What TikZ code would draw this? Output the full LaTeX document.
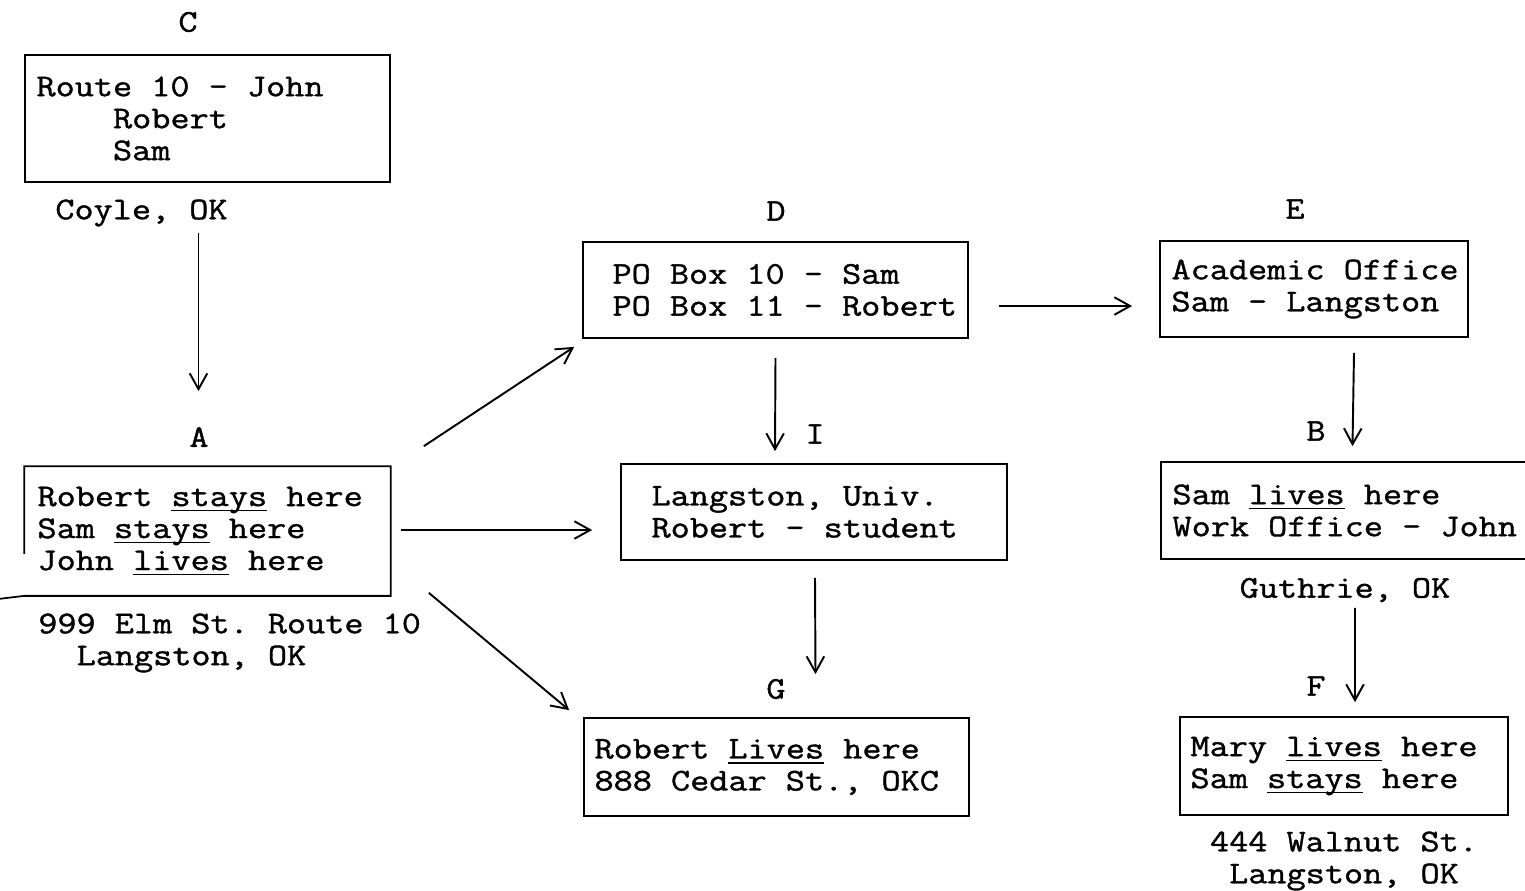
\documentclass[tikz,border=0pt]{standalone}
\usepackage{fontspec}
\setmonofont{Latin Modern Mono}[FakeStretch=1.175, FakeBold=1.2]
\usetikzlibrary{positioning}
\usetikzlibrary{arrows.meta}
\newcommand{\undr}[1]{\setbox0\hbox{#1}\rlap{\rule[-3pt]{\wd0}{0.9pt}}#1}

\begin{document}
\begin{tikzpicture}[x=0.02cm, y=-0.02cm, font=\ttfamily\fontsize{18}{18.2}\selectfont]

\tikzset{box/.style={draw, line width=1pt, inner sep=0pt},
         txt/.style={align=left, inner sep=0pt, anchor=west},
         tag/.style={inner sep=0pt},
         arr/.style={line width=1.1pt, -{Straight Barb[length=9pt, width=10pt]}}}

\useasboundingbox (0,0) rectangle (1525,890);
\clip (0,0) rectangle (1525,890);

\node[box, minimum width=7.3cm, minimum height=2.54cm] (C) at (207.5,118.5) {};
\node[txt, right=0.24cm of C.west] (C-text) {Route 10 - John\\\phantom{xxxx}Robert\\\phantom{xxxx}Sam};
\node[tag] (C-tag) at (188,22) {C};
\node[tag] (C-city) at (141.5,213) {Coyle, OK};

\node[box, draw=none, minimum width=7.3cm, minimum height=2.56cm] (A) at (207.5,531) {};
\draw[line width=1pt] ([shift={(0,-42)}]A.south west) |- (A.north east) |- (A.south west) -- ++(-25,3);
\node[txt, right=0.26cm of A.west] (A-text) {Robert \undr{stays} here\\Sam \undr{stays} here\\John \undr{lives} here};
\node[tag] (A-tag) at (199,437) {A};
\node[txt] (A-city) at (38,643) {999 Elm St. Route 10\\\phantom{xx}Langston, OK};

\node[box, minimum width=7.7cm, minimum height=1.92cm] (D) at (775.5,290) {};
\node[txt, right=0.6cm of D.west] (D-text) {PO Box 10 - Sam\\PO Box 11 - Robert};
\node[tag] (D-tag) at (776,211) {D};

\node[box, minimum width=6.16cm, minimum height=1.92cm] (E) at (1314,289) {};
\node[txt, right=0.24cm of E.west] (E-text) {Academic Office\\Sam - Langston};
\node[tag] (E-tag) at (1295,209) {E};

\node[box, minimum width=7.72cm, minimum height=1.92cm] (I) at (814,512) {};
\node[txt, right=0.62cm of I.west] (I-text) {Langston, Univ.\\Robert - student};
\node[tag] (I-tag) at (815,434) {I};

\node[box, minimum width=7.58cm, minimum height=1.94cm] (B) at (1350.5,510.5) {};
\node[txt, right=0.24cm of B.west] (B-text) {Sam \undr{lives} here\\Work Office - John};
\node[tag] (B-tag) at (1316,431) {B};
\node[tag] (B-city) at (1345,590) {Guthrie, OK};

\node[box, minimum width=7.7cm, minimum height=1.96cm] (G) at (776.5,767) {};
\node[txt, right=0.22cm of G.west] (G-text) {Robert \undr{Lives} here\\888 Cedar St., OKC};
\node[tag] (G-tag) at (776,689) {G};

\node[box, minimum width=6.56cm, minimum height=1.96cm] (F) at (1344,766) {};
\node[txt, right=0.22cm of F.west] (F-text) {Mary \undr{lives} here\\Sam \undr{stays} here};
\node[tag] (F-tag) at (1316,686) {F};
\node[tag, align=center] (F-city) at (1344,861) {444 Walnut St.\\Langston, OK};

\draw[arr] ([shift={(-9,50)}]C.south) -- ([shift={(-9,-75)}]A.north);
\draw[arr] ([shift={(33,-20)}]A.north east) -- ([shift={(-8,8)}]D.south west);
\draw[arr] ([shift={(10,-1)}]A.east) -- ([shift={(-28,18)}]I.west);
\draw[arr] ([shift={(38,-3)}]A.south east) -- ([shift={(-14,-7)}]G.north west);
\draw[arr] ([shift={(0,19)}]D.south) -- ([shift={(-39,-12)}]I.north);
\draw[arr] ([shift={(30,16)}]D.east) -- ([shift={(-27,17)}]E.west);
\draw[arr] ([shift={(1,17)}]I.south) -- ([shift={(39,-43)}]G.north);
\draw[arr] ([shift={(40,15)}]E.south) -- ([shift={(2,-15)}]B.north);
\draw[arr] ([shift={(4.5,48)}]B.south) -- ([shift={(11,-14)}]F.north);

\end{tikzpicture}
\end{document}
